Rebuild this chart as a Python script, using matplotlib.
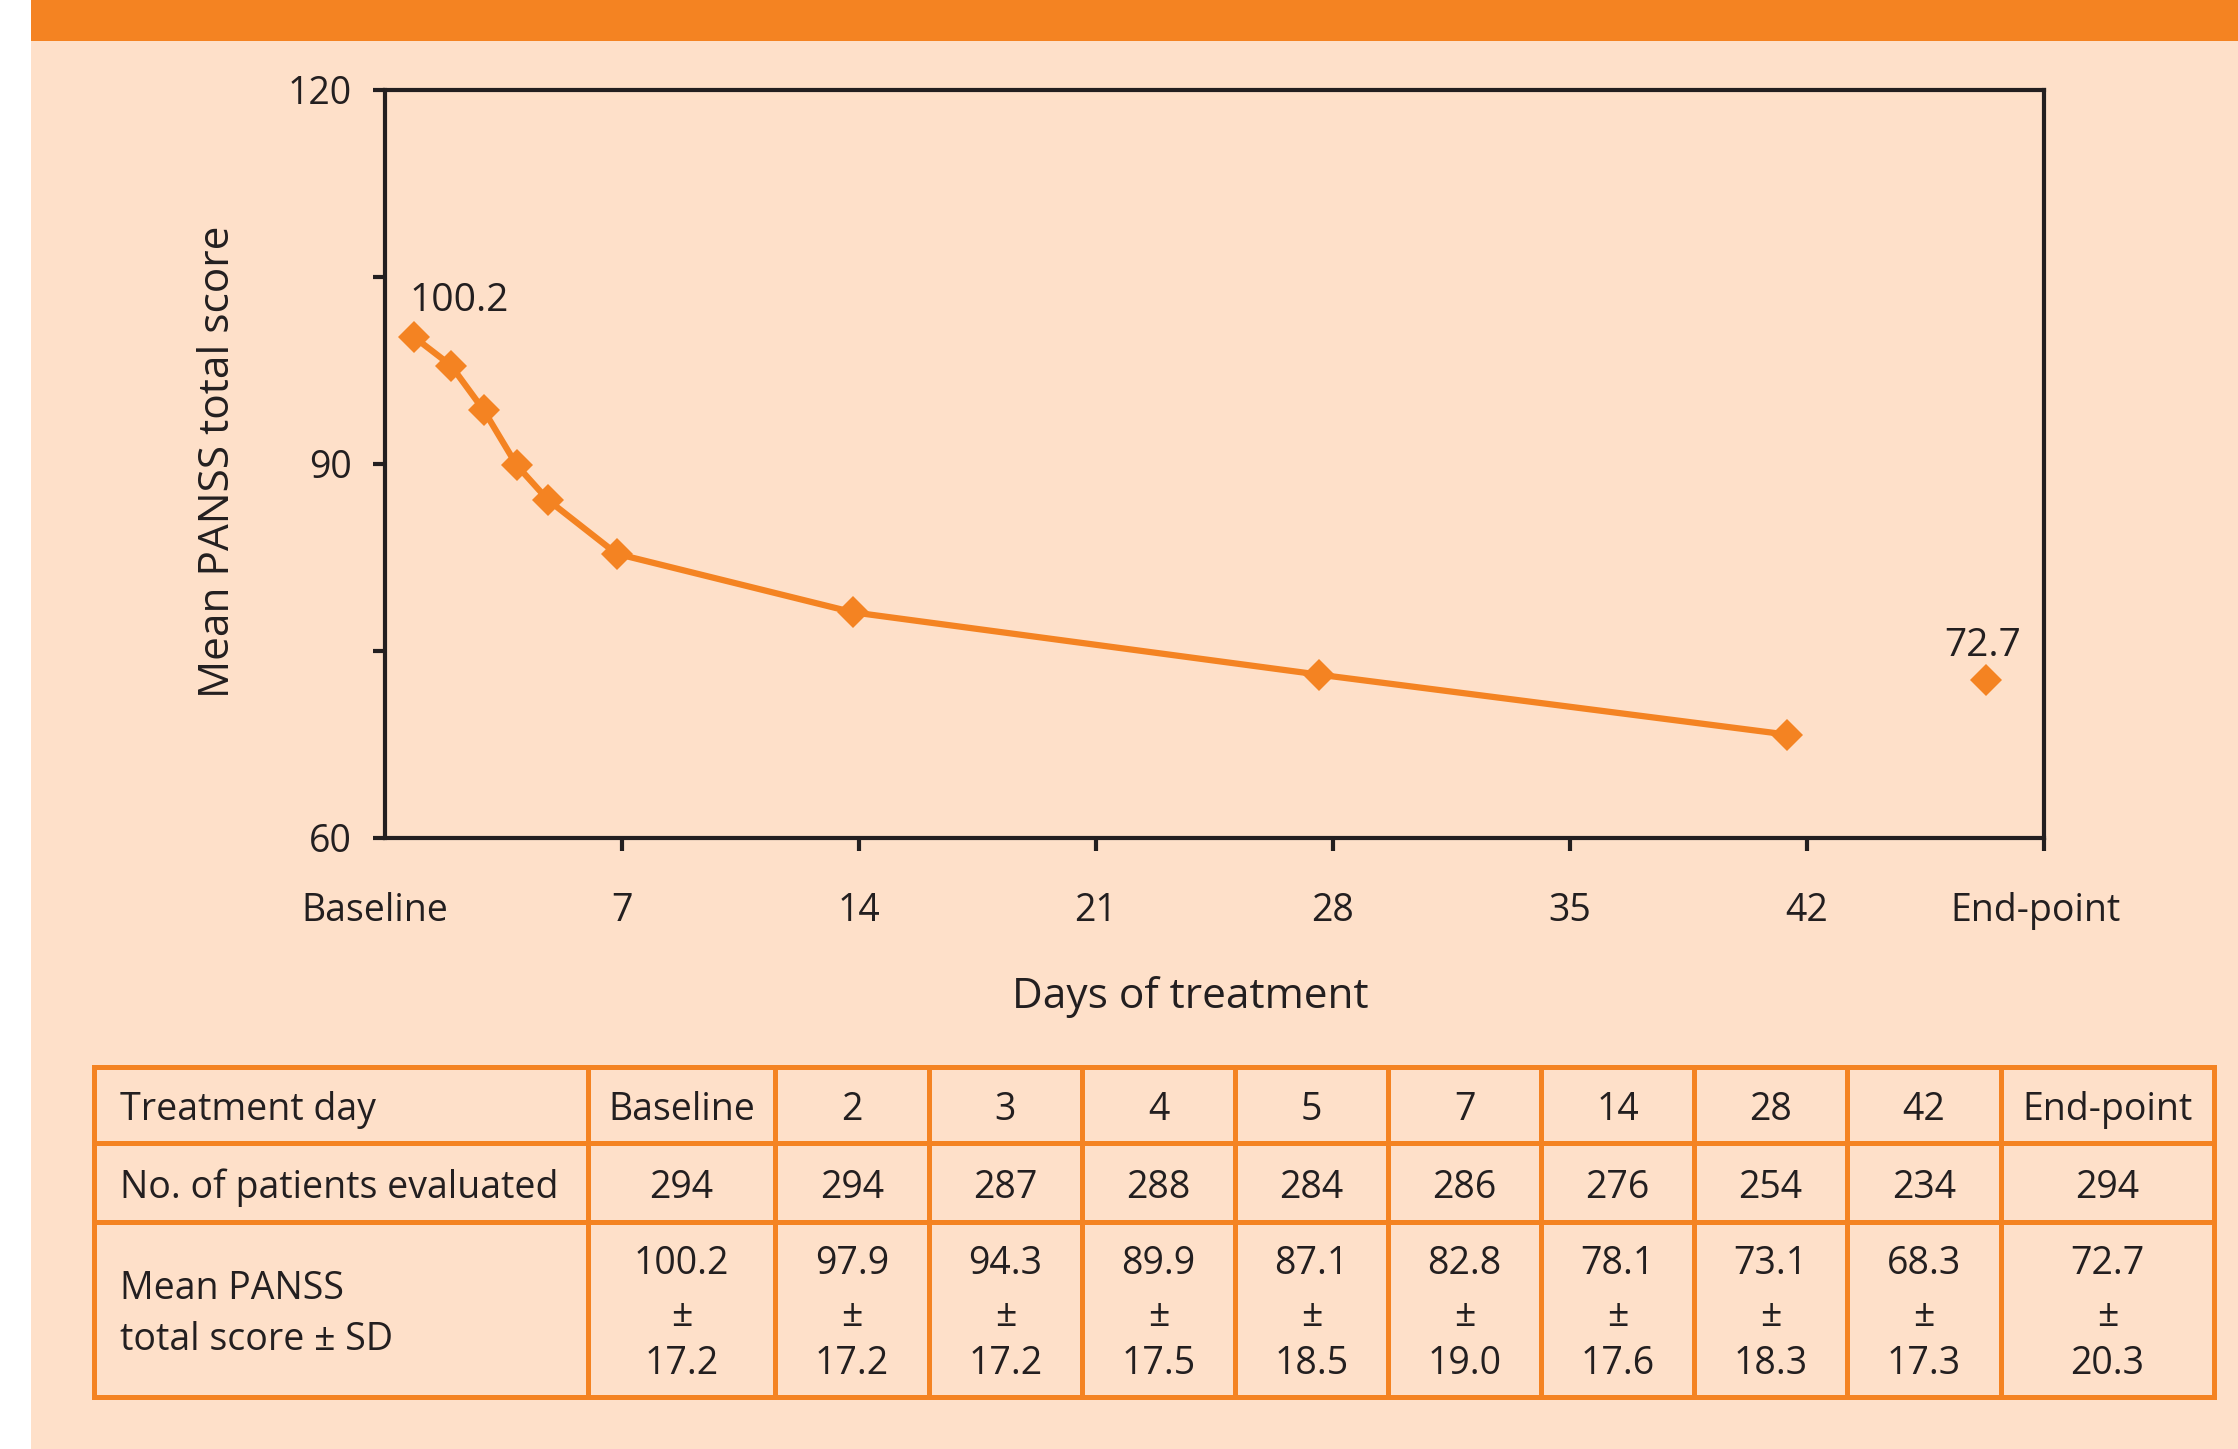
import matplotlib
matplotlib.use("Agg")
import matplotlib.pyplot as plt
from matplotlib.patches import Rectangle
from matplotlib.lines import Line2D
import matplotlib.transforms as mtransforms

# ---------------- data ----------------
plot_days = [0.85, 1.95, 2.92, 3.89, 4.82, 6.84, 13.83, 27.6, 41.4]
plot_scores = [100.2, 97.9, 94.3, 89.9, 87.1, 82.8, 78.1, 73.1, 68.3]
endpoint_day = 47.3
endpoint_score = 72.7

x_ticks = [0, 7, 14, 21, 28, 35, 42, 49]
x_tick_labels = ["Baseline", "7", "14", "21", "28", "35", "42", "End-point"]
y_ticks = [60, 75, 90, 105, 120]
y_tick_labels = ["60", "", "90", "", "120"]

table_days = ["Baseline", "2", "3", "4", "5", "7", "14", "28", "42", "End-point"]
table_n = [294, 294, 287, 288, 284, 286, 276, 254, 234, 294]
table_mean = [100.2, 97.9, 94.3, 89.9, 87.1, 82.8, 78.1, 73.1, 68.3, 72.7]
table_sd = [17.2, 17.2, 17.2, 17.5, 18.5, 19.0, 17.6, 18.3, 17.3, 20.3]
row_labels = ["Treatment day", "No. of patients evaluated", "Mean PANSS\ntotal score \u00b1 SD"]

# ---------------- style ----------------
ORANGE = "#F48322"
PEACH = "#FEE0C9"
TEXT = "#231F20"
FONT = ["Open Sans", "DejaVu Sans"]
plt.rcParams["font.family"] = FONT

W, H = 2238, 1449
fig = plt.figure(figsize=(W / 100, H / 100), dpi=100)
fig.patch.set_facecolor("white")

bg = fig.add_axes([0, 0, 1, 1])
bg.set_xlim(0, W)
bg.set_ylim(H, 0)
bg.axis("off")
bg.set_zorder(-10)
bg.add_patch(Rectangle((31, 0), W - 31, H, facecolor=PEACH, edgecolor="none"))
bg.add_patch(Rectangle((31, 0), W - 31, 41, facecolor=ORANGE, edgecolor="none"))

# ---------------- chart ----------------
L, R, T, B = 385, 2044, 90, 838
ax = fig.add_axes([L / W, 1 - B / H, (R - L) / W, (B - T) / H])
ax.set_facecolor("none")
ax.plot(plot_days, plot_scores, color=ORANGE, lw=4.5, marker="D", ms=16,
        mew=0, solid_joinstyle="round", zorder=3, clip_on=False)
ax.plot([endpoint_day], [endpoint_score], color=ORANGE, marker="D", ms=16,
        mew=0, ls="none", zorder=3, clip_on=False)
ax.set_xlim(0, 49)
ax.set_ylim(60, 120)
ax.set_xticks(x_ticks)
ax.set_xticklabels(x_tick_labels)
ax.set_yticks(y_ticks)
ax.set_yticklabels(y_tick_labels)
for s in ax.spines.values():
    s.set_linewidth(3)
    s.set_color(TEXT)
ax.tick_params(axis="both", direction="out", width=3, length=9, colors=TEXT,
               labelsize=27, labelcolor=TEXT)
ax.tick_params(axis="y", pad=15)
ax.tick_params(axis="x", pad=30)
ax.xaxis.get_major_ticks()[0].tick1line.set_visible(False)
xl = ax.get_xticklabels()
xl[0].set_transform(xl[0].get_transform() + mtransforms.ScaledTranslation(-0.1, 0, fig.dpi_scale_trans))
xl[-1].set_transform(xl[-1].get_transform() + mtransforms.ScaledTranslation(-0.08, 0, fig.dpi_scale_trans))

ax.annotate(f"{plot_scores[0]:.1f}", (plot_days[0], plot_scores[0]), xytext=(33, 26),
            textcoords="offset points", ha="center", va="center", fontsize=28, color=TEXT)
ax.annotate(f"{endpoint_score:.1f}", (endpoint_day, endpoint_score), xytext=(-3, 24),
            textcoords="offset points", ha="center", va="center", fontsize=28, color=TEXT)

ax.set_xlabel("Days of treatment", fontsize=30.5, color=TEXT)
ax.set_ylabel("Mean PANSS total score", fontsize=30.5, color=TEXT)
ax.xaxis.label.set_va("center")
ax.xaxis.set_label_coords((1190 - L) / (R - L), (B - 997) / (B - T))
ax.yaxis.label.set_va("center")
ax.yaxis.set_label_coords((218 - L) / (R - L), (B - 462) / (B - T))

# ---------------- table ----------------
col_edges = [94, 588, 775, 929, 1082, 1235, 1388, 1541, 1694, 1847, 2001, 2214]
row_edges = [1067, 1143, 1222, 1397]
lw_tab = 3.6
for xe in col_edges:
    bg.add_line(Line2D([xe, xe], [row_edges[0], row_edges[-1]], color=ORANGE, lw=lw_tab,
                       solid_capstyle="projecting"))
for ye in row_edges:
    bg.add_line(Line2D([col_edges[0], col_edges[-1]], [ye, ye], color=ORANGE, lw=lw_tab,
                       solid_capstyle="projecting"))

fs_tab = 27
dy = 5
for r, lab in enumerate(row_labels):
    yc = (row_edges[r] + row_edges[r + 1]) / 2 + dy
    bg.text(120, yc, lab, ha="left", va="center", fontsize=fs_tab, color=TEXT,
            linespacing=1.42)

for i in range(len(table_days)):
    xc = (col_edges[i + 1] + col_edges[i + 2]) / 2
    y1 = (row_edges[0] + row_edges[1]) / 2 + dy
    y2 = (row_edges[1] + row_edges[2]) / 2 + dy
    y3 = (row_edges[2] + row_edges[3]) / 2 + dy
    bg.text(xc, y1, table_days[i], ha="center", va="center", fontsize=fs_tab, color=TEXT)
    bg.text(xc, y2, str(table_n[i]), ha="center", va="center", fontsize=fs_tab, color=TEXT)
    bg.text(xc, y3 - 50, f"{table_mean[i]:.1f}", ha="center", va="center", fontsize=fs_tab, color=TEXT)
    bg.text(xc, y3 + 1, "\u00b1", ha="center", va="center", fontsize=fs_tab, color=TEXT)
    bg.text(xc, y3 + 49, f"{table_sd[i]:.1f}", ha="center", va="center", fontsize=fs_tab, color=TEXT)

fig.savefig("out.png", dpi=100, facecolor=fig.get_facecolor())
